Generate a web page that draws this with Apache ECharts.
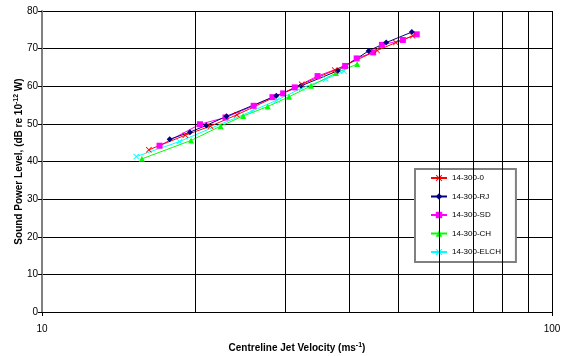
<!DOCTYPE html>
<html lang="en">
<head>
  <meta charset="UTF-8">
  <title>Sound Power Level</title>
  <script src="https://cdn.jsdelivr.net/npm/echarts@6/dist/echarts.min.js"></script>
  <style>
    html, body { margin: 0; padding: 0; background: #fff; }
    #main { width: 562px; height: 356px; }
  </style>
</head>
<body>
<div id="main"></div>
<script>
  // data
  var seriesNames = ['14-300-0', '14-300-RJ', '14-300-SD', '14-300-CH', '14-300-ELCH'];

  var v0 = [16.2, 19.1, 21.4, 24.1, 32.3, 37.5, 45.4, 49.4, 53.3];
  var p0 = [43.1, 47.0, 49.4, 52.4, 60.5, 64.3, 69.5, 71.6, 73.4];

  var vRJ = [17.8, 19.5, 21.0, 23.0, 28.8, 32.2, 38.0, 43.7, 47.3, 53.1];
  var pRJ = [45.9, 47.8, 49.6, 52.0, 57.5, 60.1, 64.1, 69.4, 71.6, 74.4];

  var vSD = [17.0, 20.4, 22.9, 26.0, 28.3, 29.7, 31.3, 34.7, 39.3, 41.4, 44.6, 46.4, 51.0, 54.3];
  var pSD = [44.2, 49.9, 51.7, 54.8, 57.1, 58.1, 59.7, 62.7, 65.4, 67.4, 69.0, 71.0, 72.3, 73.8];

  var vCH = [15.7, 19.6, 22.4, 24.8, 27.7, 30.5, 33.7, 37.7, 41.5];
  var pCH = [40.7, 45.6, 49.4, 52.1, 54.6, 57.2, 60.1, 63.5, 65.9];

  var vELCH = [15.3, 18.6, 25.8, 28.9, 32.3, 36.0, 39.1];
  var pELCH = [41.3, 45.3, 53.4, 56.3, 59.5, 61.9, 64.0];

  var minorGrid = [20, 30, 40, 50, 60, 70, 80, 90];

  function pairs(xs, ys) {
    return xs.map(function (x, i) { return [x, ys[i]]; });
  }

  var crossPath = 'path://M0,1L1,0L5,4L9,0L10,1L6,5L10,9L9,10L5,6L1,10L0,9L4,5Z';
  var font = 'Liberation Sans, Arial, sans-serif';

  var chartDom = document.getElementById('main');
  var myChart = echarts.init(chartDom);
  var option;

  function mkSeries(name, data, color, symbol, size) {
    return {
      name: name,
      type: 'line',
      data: data,
      symbol: symbol,
      symbolSize: size,
      showSymbol: true,
      animation: false,
      lineStyle: { color: color, width: 1 },
      itemStyle: { color: color },
      emphasis: { disabled: true }
    };
  }

  var series = [
    mkSeries(seriesNames[0], pairs(v0, p0), '#ff0000', crossPath, 6),
    mkSeries(seriesNames[1], pairs(vRJ, pRJ), '#000080', 'diamond', 6),
    mkSeries(seriesNames[2], pairs(vSD, pSD), '#ff00ff', 'rect', 6),
    mkSeries(seriesNames[3], pairs(vCH, pCH), '#00ff00', 'triangle', 6),
    mkSeries(seriesNames[4], pairs(vELCH, pELCH), '#00ffff', crossPath, 6)
  ];
  // vertical grid lines of the log axis
  series[0].markLine = {
    silent: true,
    symbol: 'none',
    animation: false,
    label: { show: false },
    lineStyle: { color: '#000', width: 1, type: 'solid' },
    data: minorGrid.map(function (v) { return { xAxis: v }; })
  };
  series.reverse();

  var nameRich = {
    b: { fontSize: 10, fontWeight: 'bold', color: '#000', fontFamily: font },
    s: { fontSize: 7, fontWeight: 'bold', color: '#000', fontFamily: font, verticalAlign: 'top', padding: [0, 0, 5, 0] }
  };

  option = {
    animation: false,
    textStyle: { fontFamily: font },
    grid: { left: 42, right: 10, top: 11, bottom: 44, outerBoundsMode: 'none', containLabel: false },
    legend: {
      orient: 'vertical',
      left: 415,
      top: 169,
      data: seriesNames,
      itemWidth: 16,
      itemHeight: 8,
      itemGap: 10.5,
      padding: [5, 15, 6, 15],
      borderColor: '#808080',
      borderWidth: 2,
      backgroundColor: '#fff',
      textStyle: { fontSize: 8, color: '#000', fontFamily: font }
    },
    xAxis: {
      type: 'log',
      logBase: 10,
      min: 10,
      max: 100,
      name: '{b|Centreline Jet Velocity (ms}{s|-1}{b|)}',
      nameLocation: 'middle',
      nameGap: 30,
      nameTextStyle: { rich: nameRich },
      axisLine: { show: true, lineStyle: { color: '#000', width: 1 } },
      axisTick: { show: true, length: 4, lineStyle: { color: '#000' } },
      axisLabel: { fontSize: 10, color: '#000', margin: 12, fontFamily: font },
      splitLine: { show: true, lineStyle: { color: '#000', width: 1 } },
      minorTick: { show: false },
      minorSplitLine: { show: false }
    },
    yAxis: {
      type: 'value',
      min: 0,
      max: 80,
      interval: 10,
      name: '{b|Sound Power Level, (dB re 10}{s|-12}{b| W)}',
      nameLocation: 'middle',
      nameGap: 17,
      nameRotate: 90,
      nameMoveOverlap: false,
      nameTextStyle: { rich: nameRich },
      axisLine: { show: true, lineStyle: { color: '#808080', width: 2 } },
      axisTick: { show: true, length: 4, lineStyle: { color: '#000' } },
      axisLabel: { fontSize: 10, color: '#000', margin: 4, fontFamily: font },
      splitLine: { show: true, lineStyle: { color: '#000', width: 1 } }
    },
    series: series
  };

  option && myChart.setOption(option);
</script>
</body>
</html>
